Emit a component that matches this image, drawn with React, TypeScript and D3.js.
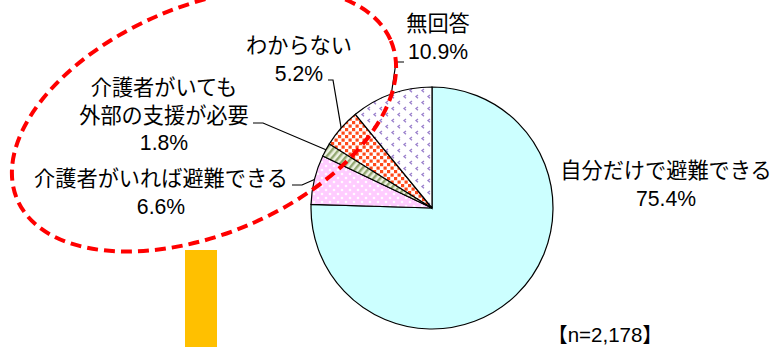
import React from "react";
import * as d3 from "d3";

const categories = [
  "自分だけで避難できる",
  "介護者がいれば避難できる",
  "介護者がいても外部の支援が必要",
  "わからない",
  "無回答",
];
const values = [75.4, 6.6, 1.8, 5.2, 10.9];
const labelLines = [
  ["自分だけで避難できる", "75.4%"],
  ["介護者がいれば避難できる", "6.6%"],
  ["介護者がいても", "外部の支援が必要", "1.8%"],
  ["わからない", "5.2%"],
  ["無回答", "10.9%"],
];
const sampleLabel = "【n=2,178】";

const W = 773;
const H = 347;
const cx = 432;
const cy = 208;
const R = 121;
const FONT = "'Liberation Sans', Arial, 'Noto Sans CJK JP', sans-serif";
const FS = 21.2;
const LH = 27.5;

// label anchor (center x, first baseline y) and leader elbows
const labelPos = [
  { x: 666, y: 178, elbow: null as null | [number, number], end: null as null | [number, number] },
  { x: 161, y: 186, elbow: [302, 185] as [number, number], end: [292, 185] as [number, number] },
  { x: 164, y: 95, elbow: [263, 123] as [number, number], end: [253, 123] as [number, number] },
  { x: 299, y: 53, elbow: [333, 80] as [number, number], end: [328, 80] as [number, number] },
  { x: 438, y: 31, elbow: [396, 62] as [number, number], end: [404, 62] as [number, number] },
];
const fills = ["#ccffff", "url(#pPink)", "url(#pGreen)", "url(#pOrange)", "url(#pPurple)"];

export default function App() {
  const pie = d3.pie<number>().sort(null).value((d) => d).startAngle(0).endAngle(2 * Math.PI);
  const arcs = pie(values);
  const arc = d3.arc<d3.PieArcDatum<number>>().innerRadius(0).outerRadius(R);

  return (
    <svg width={W} height={H} style={{ position: "absolute", left: 0, top: 0, background: "#fff" }}>
      <defs>
        <pattern id="pPink" width="8" height="8" patternUnits="userSpaceOnUse">
          <rect width="8" height="8" fill="#ffccff" />
          <circle cx="2" cy="2" r="1.3" fill="#ffffff" opacity="0.9" />
          <circle cx="6" cy="6" r="1.3" fill="#ffffff" opacity="0.9" />
        </pattern>
        <pattern id="pGreen" width="5" height="5" patternUnits="userSpaceOnUse" patternTransform="rotate(40)">
          <rect width="5" height="5" fill="#eef2e2" />
          <rect width="2.4" height="5" fill="#93a872" />
        </pattern>
        <pattern id="pOrange" width="7" height="7" patternUnits="userSpaceOnUse">
          <rect width="7" height="7" fill="#ffffff" />
          <rect x="0.5" y="0.5" width="3.2" height="3.2" fill="#ff4a1a" />
          <rect x="4" y="4" width="3.2" height="3.2" fill="#ff4a1a" />
          <rect x="-3" y="4" width="3.2" height="3.2" fill="#ff4a1a" />
          <rect x="4" y="-3" width="3.2" height="3.2" fill="#ff4a1a" />
        </pattern>
        <pattern id="pPurple" width="12" height="12" patternUnits="userSpaceOnUse">
          <rect width="12" height="12" fill="#ffffff" />
          <path d="M4,1 L2,2.6 L4,4.2" fill="none" stroke="#9a80cc" strokeWidth="1.3" />
          <path d="M10,7 L8,8.6 L10,10.2" fill="none" stroke="#9a80cc" strokeWidth="1.3" />
        </pattern>
      </defs>

      <g transform={`translate(${cx},${cy})`}>
        {arcs.map((a, i) => (
          <path key={categories[i]} d={arc(a) || ""} fill={fills[i]} stroke="#000" strokeWidth={1.2} />
        ))}
      </g>

      {arcs.map((a, i) => {
        const lp = labelPos[i];
        if (!lp.elbow || !lp.end) return null;
        const mid = (a.startAngle + a.endAngle) / 2;
        const px = cx + R * Math.sin(mid);
        const py = cy - R * Math.cos(mid);
        return (
          <polyline
            key={"l" + i}
            points={`${px},${py} ${lp.elbow[0]},${lp.elbow[1]} ${lp.end[0]},${lp.end[1]}`}
            fill="none"
            stroke="#000"
            strokeWidth={1.2}
          />
        );
      })}

      {labelLines.map((lines, i) => (
        <text key={"t" + i} fontFamily={FONT} fontSize={FS} fill="#000" textAnchor="middle">
          {lines.map((s, j) => (
            <tspan key={j} x={labelPos[i].x} y={labelPos[i].y + j * LH}>
              {s}
            </tspan>
          ))}
        </text>
      ))}

      <rect x={185} y={250} width={32} height={97} fill="#ffc000" />

      <ellipse
        cx={204}
        cy={120}
        rx={203}
        ry={114}
        transform="rotate(-23 204 120)"
        fill="none"
        stroke="#ff0000"
        strokeWidth={4}
        strokeDasharray="11 6"
      />

      <text x={605} y={342} fontFamily={FONT} fontSize={20.5} textAnchor="middle" fill="#000">
        {sampleLabel}
      </text>
    </svg>
  );
}
